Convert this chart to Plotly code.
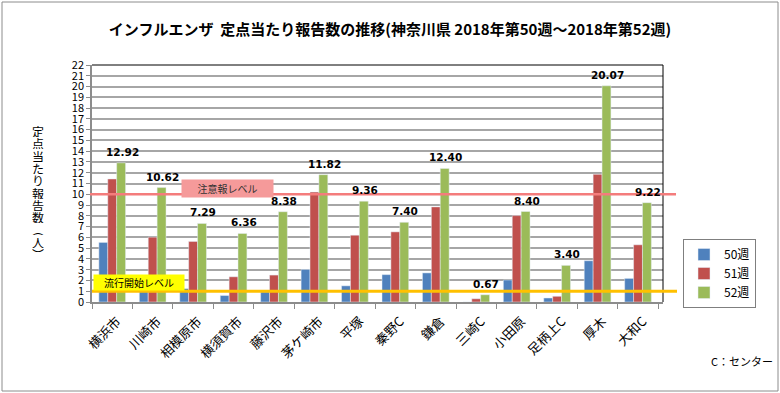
import plotly.graph_objects as go

categories = ["横浜市", "川崎市", "相模原市", "横須賀市", "藤沢市", "茅ケ崎市", "平塚",
              "秦野C", "鎌倉", "三崎C", "小田原", "足柄上C", "厚木", "大和C"]
week50 = [5.53, 1.2, 1.24, 0.6, 0.93, 3.02, 1.5, 2.54, 2.7, 0.0, 2.04, 0.37, 3.83, 2.19]
week51 = [11.42, 6.02, 5.62, 2.34, 2.5, 10.2, 6.2, 6.51, 8.83, 0.3, 8.02, 0.53, 11.85, 5.31]
week52 = [12.92, 10.62, 7.29, 6.36, 8.38, 11.82, 9.36, 7.40, 12.40, 0.67, 8.40, 3.40, 20.07, 9.22]
series_names = ["50週", "51週", "52週"]
series_colors = ["#4f81bd", "#c0504d", "#9bbb59"]
alert_level = 10
epidemic_level = 1
y_ticks = list(range(0, 23))
title_text = "インフルエンザ  定点当たり報告数の推移(神奈川県 2018年第50週～2018年第52週)"
ytitle_chars = ["定", "点", "当", "た", "り", "報", "告", "数", "︵", "人", "︶"]

FONT = "Noto Sans CJK JP"

fig = go.Figure()
for name, vals, col in zip(series_names, [week50, week51, week52], series_colors):
    fig.add_trace(go.Bar(x=categories, y=vals, name=name, marker=dict(color=col)))

L, R, T, B = 92, 117, 65, 91
W, H = 780, 393
pw = W - L - R
ph = H - T - B
BARGAP = 0.34
cat_px = pw / len(categories)
green_offset = cat_px * (1 - BARGAP) / 3  # green bar centre offset from category centre

def px(xp):
    return (xp - L) / pw

def py(yp):
    return (H - B - yp) / ph

shapes = [
    dict(type="rect", xref="paper", yref="paper", x0=px(2), x1=px(778), y0=py(391), y1=py(2),
         line=dict(color="#8c8c8c", width=1), layer="below"),
    dict(type="line", xref="paper", yref="paper", x0=0, x1=1, y0=1, y1=1,
         line=dict(color="black", width=1)),
    dict(type="line", xref="paper", yref="paper", x0=1, x1=1, y0=0, y1=1,
         line=dict(color="black", width=1)),
    dict(type="line", xref="paper", yref="y", x0=px(90), x1=px(676), y0=alert_level, y1=alert_level,
         line=dict(color="#f47c7c", width=2.5), layer="above"),
    dict(type="line", xref="paper", yref="y", x0=px(92), x1=px(677), y0=epidemic_level, y1=epidemic_level,
         line=dict(color="#ffc000", width=3), layer="above"),
]

annotations = [
    dict(text="注意報レベル", xref="paper", yref="paper", x=px(227.5), y=py(188.5),
         xanchor="center", yanchor="middle",
         showarrow=False, bgcolor="#f59a9a", width=89, height=15,
         font=dict(size=10, color="#333333", family=FONT)),
    dict(text="流行開始レベル", xref="paper", yref="paper", x=px(139), y=py(282),
         xanchor="center", yanchor="middle",
         showarrow=False, bgcolor="#ffff00", width=88, height=13,
         font=dict(size=10, color="black", family=FONT)),
    dict(text="C：センター", xref="paper", yref="paper", x=px(742), y=py(361),
         xanchor="center", yanchor="middle",
         showarrow=False, font=dict(size=11, color="black", family=FONT)),
]
for i, ch in enumerate(ytitle_chars):
    annotations.append(dict(text=ch, xref="paper", yref="paper", x=px(38), y=py(131 + i * 12.3),
                            xanchor="center", yanchor="middle", height=12,
                            showarrow=False, font=dict(size=12, color="black", family=FONT)))
# data labels for 52週
for c, v in zip(categories, week52):
    annotations.append(dict(text=f"{v:.2f}", x=c, y=v, xref="x", yref="y",
                            xanchor="center", yanchor="middle", xshift=green_offset + 1, yshift=11,
                            showarrow=False,
                            font=dict(size=10.5, color="black", family="DejaVu Sans", weight="bold")))

fig.update_layout(
    width=W, height=H, autosize=False,
    margin=dict(l=L, r=R, t=T, b=B, autoexpand=False),
    paper_bgcolor="white", plot_bgcolor="white",
    font=dict(family=FONT, color="black"),
    title=dict(text=title_text, x=0.5, xref="container", y=1 - 30 / H, yanchor="middle",
               xanchor="center", font=dict(size=15, family=FONT, weight="bold", color="black")),
    barmode="group", bargap=BARGAP, bargroupgap=0,
    showlegend=True,
    legend=dict(x=px(683), y=py(239), xanchor="left", yanchor="top",
                bordercolor="#7f7f7f", borderwidth=1, bgcolor="white",
                font=dict(size=12, family=FONT), tracegroupgap=0, itemwidth=30),
    shapes=shapes, annotations=annotations,
)
fig.update_yaxes(range=[0, 22], tickvals=y_ticks, ticks="outside", ticklen=4, tickcolor="#8c8c8c",
                 showgrid=True, gridcolor="#a6a6a6", gridwidth=1.5, showline=True, automargin=False,
                 linecolor="#8c8c8c", linewidth=1.5, tickfont=dict(size=11, family=FONT), zeroline=False)
fig.update_xaxes(tickangle=-45, ticks="outside", tickson="boundaries", ticklen=5, tickcolor="#8c8c8c",
                 showline=True, linecolor="#8c8c8c", linewidth=1.5, automargin=False,
                 ticklabelshift=5, ticklabelstandoff=5,
                 tickfont=dict(size=13, family=FONT))

fig.write_html("out.html", config={"displayModeBar": False},
               post_script="document.body.style.margin='0';document.body.style.overflow='hidden';")
